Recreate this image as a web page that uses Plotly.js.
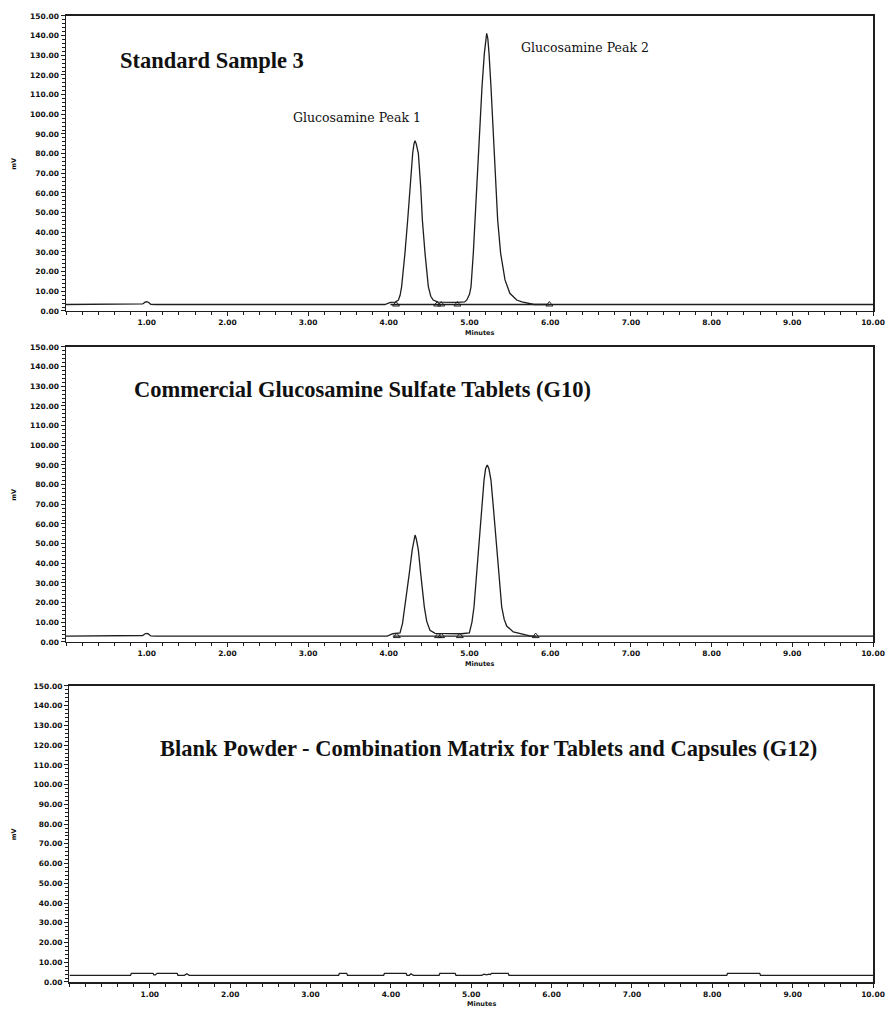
<!DOCTYPE html>
<html>
<head>
<meta charset="utf-8">
<script src="https://cdn.plot.ly/plotly-3.0.1.min.js"></script>
<style>html,body{margin:0;padding:0;background:#fff;}#chart{width:888px;height:1015px;}</style>
</head>
<body>
<div id="chart"></div>
<script>
// ---- Panel titles and labels ----
const panelTitles = [
  "Standard Sample 3",
  "Commercial Glucosamine Sulfate Tablets (G10)",
  "Blank Powder - Combination Matrix for Tablets and Capsules (G12)"
];
const peakLabels = ["Glucosamine Peak 1", "Glucosamine Peak 2"];
const xTickVals = [1, 2, 3, 4, 5, 6, 7, 8, 9, 10];
const xTickText = ["1.00", "2.00", "3.00", "4.00", "5.00", "6.00", "7.00", "8.00", "9.00", "10.00"];
const yTickVals = [0, 10, 20, 30, 40, 50, 60, 70, 80, 90, 100, 110, 120, 130, 140, 150];
const yTickText = ["0.00", "10.00", "20.00", "30.00", "40.00", "50.00", "60.00", "70.00", "80.00", "90.00",
                   "100.00", "110.00", "120.00", "130.00", "140.00", "150.00"];

// ---- Panel 1: Standard Sample 3 (minutes, mV) ----
const time1 = [0, 0.90, 0.95, 0.98, 1.00, 1.02, 1.05, 1.10, 3.95, 4.02, 4.08, 4.118, 4.14, 4.159, 4.18, 4.20,
  4.234, 4.263, 4.296, 4.312, 4.325, 4.34, 4.366, 4.395, 4.416, 4.449, 4.47, 4.49, 4.52, 4.55, 4.61, 4.70,
  4.85, 4.94, 4.965, 5.00, 5.019, 5.047, 5.068, 5.089, 5.109, 5.130, 5.155, 5.184, 5.20, 5.213, 5.227, 5.242,
  5.266, 5.287, 5.307, 5.328, 5.349, 5.386, 5.44, 5.50, 5.585, 5.65, 5.75, 5.80, 10];
const signal1 = [3.3, 3.3, 3.6, 4.5, 4.7, 4.4, 3.4, 3.3, 3.3, 4.4, 4.5, 5.5, 8.0, 12.4, 20.0, 29.3,
  46.3, 63.2, 80.2, 85.0, 86.6, 85.0, 80.2, 63.2, 46.3, 29.3, 20.0, 12.4, 7.5, 5.6, 4.5, 4.4,
  4.4, 4.6, 5.5, 8.5, 12.4, 29.3, 46.3, 63.2, 80.2, 97.1, 114.1, 131.0, 138.5, 141.2, 138.5, 131.0,
  114.1, 97.1, 80.2, 63.2, 46.3, 29.3, 15.8, 9.0, 5.6, 4.6, 3.6, 3.3, 3.3];
const intBaseTime1 = [4.02, 5.98];
const intBase1 = [3.3, 3.3];
const markTime1 = [4.09, 4.60, 4.65, 4.85, 5.99];
const markVal1 = [3.3, 3.3, 3.3, 3.3, 3.3];

// ---- Panel 2: Commercial tablets (G10) ----
const time2 = [0, 0.90, 0.95, 0.98, 1.00, 1.02, 1.05, 1.10, 3.98, 4.05, 4.10, 4.139, 4.17, 4.20, 4.23, 4.254,
  4.29, 4.31, 4.325, 4.34, 4.366, 4.395, 4.42, 4.44, 4.47, 4.51, 4.573, 4.70, 4.90, 4.998, 5.03, 5.056,
  5.089, 5.118, 5.151, 5.18, 5.20, 5.22, 5.24, 5.266, 5.295, 5.328, 5.357, 5.399, 5.43, 5.461, 5.543,
  5.62, 5.71, 5.76, 10];
const signal2 = [3.0, 3.0, 3.3, 4.2, 4.4, 4.1, 3.1, 3.0, 3.0, 4.2, 4.4, 4.6, 9.5, 17.9, 27.0, 34.9,
  46.8, 52.5, 54.4, 52.5, 46.8, 34.9, 25.0, 17.9, 10.5, 6.0, 4.4, 4.2, 4.2, 4.6, 10.0, 17.9,
  34.9, 51.8, 68.8, 82.3, 88.2, 90.0, 88.2, 82.3, 68.8, 51.8, 34.9, 17.9, 11.5, 8.1, 5.1,
  4.4, 3.4, 3.0, 3.0];
const intBaseTime2 = [4.05, 5.82];
const intBase2 = [3.0, 3.0];
const markTime2 = [4.10, 4.61, 4.65, 4.88, 5.82];
const markVal2 = [3.0, 3.0, 3.0, 3.0, 3.0];

// ---- Panel 3: Blank powder (G12) ----
const time3 = [0, 0.76, 0.77, 1.04, 1.05, 1.07, 1.08, 1.09, 1.34, 1.35, 1.43, 1.46, 1.49, 3.35, 3.36, 3.45,
  3.46, 3.91, 3.92, 4.19, 4.20, 4.23, 4.25, 4.28, 4.30, 4.32, 4.60, 4.61, 4.80, 4.81, 5.13, 5.16, 5.19,
  5.22, 5.24, 5.25, 5.46, 5.47, 8.18, 8.19, 8.59, 8.60, 10];
const signal3 = [3.4, 3.4, 4.4, 4.4, 3.6, 3.6, 4.0, 4.4, 4.4, 3.4, 3.4, 4.2, 3.4, 3.4, 4.4, 4.4,
  3.4, 3.4, 4.4, 4.4, 3.4, 3.4, 4.2, 3.4, 3.4, 3.4, 3.4, 4.4, 4.4, 3.4, 3.4, 4.0, 3.6,
  4.0, 3.8, 4.4, 4.4, 3.4, 3.4, 4.4, 4.4, 3.4, 3.4];

const ink = "#1e1e1e";
const lineStyle = {color: ink, width: 1.3};

function sigTrace(x, y, xa, ya) {
  return {x: x, y: y, xaxis: xa, yaxis: ya, type: "scatter", mode: "lines", line: lineStyle, hoverinfo: "skip"};
}
function markTrace(x, y, xa, ya) {
  return {x: x, y: y, xaxis: xa, yaxis: ya, type: "scatter", mode: "markers", cliponaxis: false,
    marker: {symbol: "triangle-up-open", size: 6, color: ink, line: {width: 1, color: ink}}, hoverinfo: "skip"};
}

const data = [
  sigTrace(intBaseTime1, intBase1, "x", "y"),
  sigTrace(time1, signal1, "x", "y"),
  markTrace(markTime1, markVal1, "x", "y"),
  sigTrace(intBaseTime2, intBase2, "x2", "y2"),
  sigTrace(time2, signal2, "x2", "y2"),
  markTrace(markTime2, markVal2, "x2", "y2"),
  sigTrace(time3, signal3, "x3", "y3")
];

const tickFont = {family: "DejaVu Sans", size: 7.5, color: "#111", weight: "bold"};

function xAxis(anchor, domain) {
  return {
    anchor: anchor, domain: domain, range: [0, 10], showgrid: false, zeroline: false,
    showline: true, linewidth: 1.5, linecolor: ink, mirror: true,
    tickmode: "array", tickvals: xTickVals, ticktext: xTickText,
    ticks: "outside", ticklen: 4, tickwidth: 1, tickcolor: ink, tickfont: tickFont,
    minor: {tickmode: "linear", tick0: 0, dtick: 0.2, ticks: "outside", ticklen: 3, tickwidth: 1, tickcolor: ink, showgrid: false},
    fixedrange: true
  };
}
function yAxis(anchor, domain) {
  return {
    anchor: anchor, domain: domain, range: [0, 150], showgrid: false, zeroline: false,
    showline: true, linewidth: 1.5, linecolor: ink, mirror: true,
    tickmode: "array", tickvals: yTickVals, ticktext: yTickText,
    ticks: "outside", ticklen: 4, tickwidth: 1, tickcolor: ink, tickfont: tickFont,
    minor: {tickmode: "linear", tick0: 0, dtick: 2, ticks: "outside", ticklen: 2.5, tickwidth: 1, tickcolor: ink, showgrid: false},
    fixedrange: true
  };
}

const titleFont = {family: "Liberation Serif", size: 22.5, color: "#111", weight: "bold"};
const peakFont = {family: "DejaVu Serif", size: 12.5, color: "#111"};
const smallFont = {family: "DejaVu Sans", size: 6.5, color: "#111", weight: "bold"};

const annotations = [
  {text: panelTitles[0], xref: "x", yref: "y", x: 1.81, y: 127.4, showarrow: false, font: titleFont, xanchor: "center", yanchor: "middle"},
  {text: panelTitles[1], xref: "x2", yref: "y2", x: 3.67, y: 128.3, showarrow: false, font: titleFont, xanchor: "center", yanchor: "middle"},
  {text: panelTitles[2], xref: "x3", yref: "y3", x: 5.22, y: 118.5, showarrow: false, font: titleFont, xanchor: "center", yanchor: "middle"},
  {text: peakLabels[0], xref: "x", yref: "y", x: 3.60, y: 98.6, showarrow: false, font: peakFont, xanchor: "center", yanchor: "middle"},
  {text: peakLabels[1], xref: "x", yref: "y", x: 6.43, y: 134.2, showarrow: false, font: peakFont, xanchor: "center", yanchor: "middle"}
];
[["y", "x"], ["y2", "x2"], ["y3", "x3"]].forEach(function (p) {
  annotations.push({text: "mV", xref: "paper", yref: p[0] + " domain", x: -0.064, y: 0.5, textangle: -90,
    showarrow: false, font: smallFont, xanchor: "center", yanchor: "middle"});
  annotations.push({text: "Minutes", xref: p[1], yref: p[0] + " domain", x: 5.13, y: -0.075,
    showarrow: false, font: smallFont, xanchor: "center", yanchor: "middle"});
});

const layout = {
  width: 888, height: 1015,
  margin: {l: 66, r: 15, t: 0, b: 0},
  paper_bgcolor: "#ffffff", plot_bgcolor: "#ffffff",
  showlegend: false,
  xaxis: xAxis("y", [0, 1]),
  yaxis: yAxis("x", [0.6936, 0.98424]),
  xaxis2: xAxis("y2", [0, 1]),
  yaxis2: yAxis("x2", [0.36749, 0.65813]),
  xaxis3: xAxis("y3", [0.0043, 1]),
  yaxis3: yAxis("x3", [0.03251, 0.32414]),
  annotations: annotations
};

Plotly.newPlot("chart", data, layout, {staticPlot: true, displayModeBar: false});
</script>
</body>
</html>
